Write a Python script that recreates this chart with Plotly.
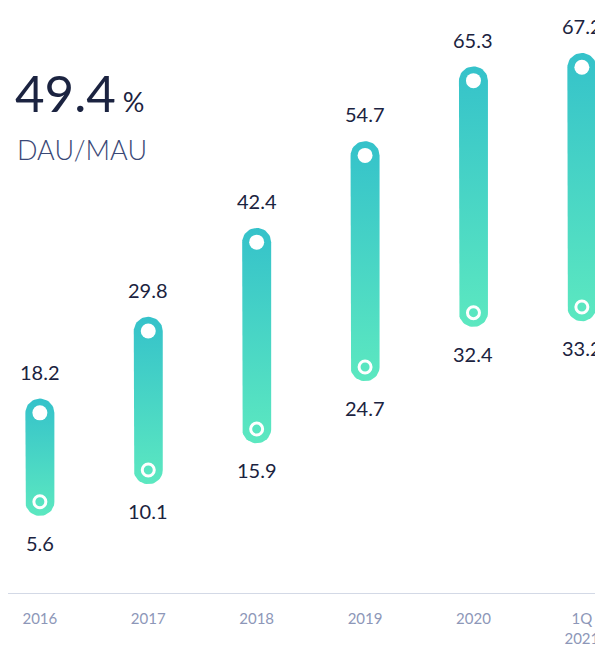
import math

import plotly.graph_objects as go

# --- data -------------------------------------------------------------------
periods = ["2016", "2017", "2018", "2019", "2020", "1Q<br>2021"]
dau_mau_high = [18.2, 29.8, 42.4, 54.7, 65.3, 67.2]
dau_mau_low = [5.6, 10.1, 15.9, 24.7, 32.4, 33.2]
headline_value = "49.4"
headline_label = "DAU/MAU"

# --- style ------------------------------------------------------------------
# page body has an 8px margin, so the figure is sized to end at the window edge
W, H = 595, 639
MARGIN = dict(l=0, r=0, t=6, b=44)
X_RANGE = [-0.294, 5.195]
Y_RANGE = [-7.345, 74.75]
TEAL = "#35C2CA"
MINT = "#5CE8C0"
NAVY = "#1B2340"
TICK = "#8D97B8"
FONT = "Lato"
R = 14.5  # pill half-width in px

px_x = (W - MARGIN["l"] - MARGIN["r"]) / (X_RANGE[1] - X_RANGE[0])
px_y = (H - MARGIN["t"] - MARGIN["b"]) / (Y_RANGE[1] - Y_RANGE[0])
plot_h = H - MARGIN["t"] - MARGIN["b"]


def pill(xc, lo, hi, n=24):
    """Closed outline of a rounded bar, caps centred on lo/hi."""
    rx, ry = R / px_x, R / px_y
    xs, ys = [], []
    for k in range(n + 1):
        a = math.pi * k / n
        xs.append(xc + rx * math.cos(a))
        ys.append(hi + ry * math.sin(a))
    for k in range(n + 1):
        a = math.pi + math.pi * k / n
        xs.append(xc + rx * math.cos(a))
        ys.append(lo + ry * math.sin(a))
    xs.append(xs[0])
    ys.append(ys[0])
    return xs, ys


xpos = list(range(len(periods)))
fig = go.Figure()

for x, lo, hi in zip(xpos, dau_mau_low, dau_mau_high):
    px_, py_ = pill(x, lo, hi)
    fig.add_trace(go.Scatter(
        x=px_, y=py_, mode="lines", line=dict(width=0),
        fill="toself",
        fillgradient=dict(type="vertical", colorscale=[[0, MINT], [1, TEAL]]),
        hoverinfo="skip", showlegend=False,
    ))

fig.add_trace(go.Scatter(
    x=xpos, y=dau_mau_high, mode="markers",
    marker=dict(size=15, color="white", line=dict(width=0)),
    showlegend=False, cliponaxis=False,
))
fig.add_trace(go.Scatter(
    x=xpos, y=dau_mau_low, mode="markers",
    marker=dict(size=12, symbol="circle-open", color="white", line=dict(width=3)),
    showlegend=False, cliponaxis=False,
))

for x, lo, hi in zip(xpos, dau_mau_low, dau_mau_high):
    fig.add_annotation(x=x, y=hi, text=f"{hi}", showarrow=False, yshift=41,
                       font=dict(family=FONT, size=20, color=NAVY))
    fig.add_annotation(x=x, y=lo, text=f"{lo}", showarrow=False, yshift=-41,
                       font=dict(family=FONT, size=20, color=NAVY))

# headline
fig.add_annotation(
    xref="paper", yref="paper", x=5 / W, y=1 - 80 / plot_h,
    xanchor="left", yanchor="middle", showarrow=False,
    text=f"{headline_value}<span style='font-size:27px'> %</span>",
    font=dict(family=FONT, size=51, color=NAVY),
)
fig.add_annotation(
    xref="paper", yref="paper", x=7 / W, y=1 - 138 / plot_h,
    xanchor="left", yanchor="middle", showarrow=False,
    text=headline_label,
    font=dict(family=FONT, size=27, color="#3A4876", weight=300),
)

fig.update_layout(
    width=W, height=H, margin=MARGIN,
    plot_bgcolor="white", paper_bgcolor="white",
    showlegend=False,
)
fig.update_xaxes(
    range=X_RANGE, tickvals=xpos, ticktext=periods,
    showgrid=False, zeroline=False,
    showline=True, linecolor="#D3D9E6", linewidth=1,
    ticks="", ticklabelstandoff=12,
    tickfont=dict(family=FONT, size=15, color=TICK),
)
fig.update_yaxes(range=Y_RANGE, visible=False, showgrid=False, zeroline=False)

fig.write_html("out.html")
